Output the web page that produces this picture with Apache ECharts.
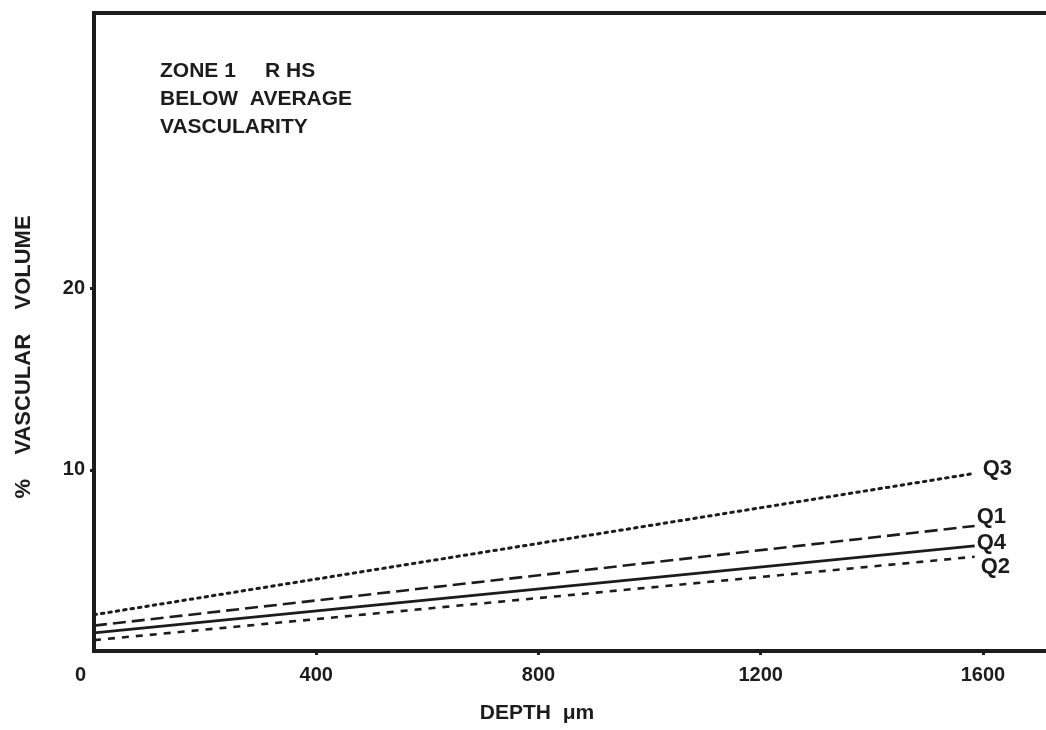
<!DOCTYPE html>
<html>
<head>
<meta charset="utf-8">
<script src="https://cdn.jsdelivr.net/npm/echarts@6/dist/echarts.min.js"></script>
<style>
  html, body { margin: 0; padding: 0; background: #ffffff; }
  #chart { width: 1046px; height: 730px; }
</style>
</head>
<body>
<div id="chart"></div>
<script>
// Depth (µm) at the two ends of each fitted line
const depth = [0, 1585];
// % vascular volume at those depths, one array per quartile
const q1 = [1.4, 6.9];
const q2 = [0.6, 5.2];
const q3 = [2.0, 9.8];
const q4 = [1.0, 5.8];
const seriesNames = ['Q1', 'Q2', 'Q3', 'Q4'];
// Tick labels
const xTicks = [0, 400, 800, 1200, 1600];
const yTicks = [10, 20];
// Caption inside the frame
const caption = ['ZONE 1     R HS', 'BELOW  AVERAGE', 'VASCULARITY'];

const ink = '#1c1c1c';
const font = '"Liberation Sans", Arial, sans-serif';

function pts(ys) { return depth.map((d, i) => [d, ys[i]]); }

const lineStyles = {
  Q1: { type: [13, 6], width: 2.6 },
  Q2: { type: [7, 7], width: 2.6 },
  Q3: { type: [2.5, 5], width: 3, cap: 'round' },
  Q4: { type: 'solid', width: 3 }
};
const labelOffsets = {
  Q1: [2, -9],
  Q2: [6, 10],
  Q3: [8, -4],
  Q4: [2, -3]
};
const values = { Q1: q1, Q2: q2, Q3: q3, Q4: q4 };

const chart = echarts.init(document.getElementById('chart'), null, { renderer: 'canvas' });

chart.setOption({
  backgroundColor: '#ffffff',
  animation: false,
  title: {
    text: caption.join('\n'),
    left: 155,
    top: 52,
    textStyle: {
      fontFamily: font,
      fontSize: 21,
      fontWeight: 'bold',
      lineHeight: 28,
      color: ink
    }
  },
  grid: {
    left: 94,
    right: -12,
    top: 13,
    bottom: 79,
    outerBoundsMode: 'none',
    containLabel: false,
    show: true,
    borderColor: ink,
    borderWidth: 4,
    backgroundColor: 'transparent'
  },
  xAxis: {
    type: 'value',
    min: 0,
    max: 1735,
    name: 'DEPTH  μm',
    nameLocation: 'middle',
    nameGap: 52,
    nameTextStyle: { fontFamily: font, fontSize: 21, fontWeight: 'bold', color: ink, padding: [0, 78, 0, 0] },
    splitLine: { show: false },
    axisLine: { show: false },
    axisTick: {
      show: true,
      customValues: xTicks.slice(1),
      length: 4,
      lineStyle: { color: ink, width: 3 }
    },
    axisLabel: {
      customValues: xTicks,
      margin: 14,
      fontFamily: font,
      fontSize: 20,
      fontWeight: 'bold',
      color: ink,
      formatter: v => (v === 0 ? '{z|0}' : String(v)),
      rich: {
        z: { fontFamily: font, fontSize: 20, fontWeight: 'bold', color: ink, padding: [0, 27, 0, 0] }
      }
    }
  },
  yAxis: {
    type: 'value',
    min: 0,
    max: 35.2,
    name: '%    VASCULAR    VOLUME',
    nameLocation: 'middle',
    nameGap: 59,
    nameRotate: 90,
    nameTextStyle: { fontFamily: font, fontSize: 22, fontWeight: 'bold', color: ink, padding: [0, 50, 0, 0] },
    splitLine: { show: false },
    axisLine: { show: false },
    axisTick: {
      show: true,
      customValues: yTicks,
      length: 4,
      lineStyle: { color: ink, width: 3 }
    },
    axisLabel: {
      customValues: yTicks,
      margin: 9,
      fontFamily: font,
      fontSize: 20,
      fontWeight: 'bold',
      color: ink
    }
  },
  series: seriesNames.map(name => ({
    name: name,
    type: 'line',
    data: pts(values[name]),
    symbol: 'none',
    silent: true,
    lineStyle: Object.assign({ color: ink }, lineStyles[name]),
    endLabel: {
      show: true,
      formatter: name,
      distance: 0,
      offset: labelOffsets[name],
      fontFamily: font,
      fontSize: 22,
      fontWeight: 'bold',
      color: ink
    }
  }))
});
</script>
</body>
</html>
